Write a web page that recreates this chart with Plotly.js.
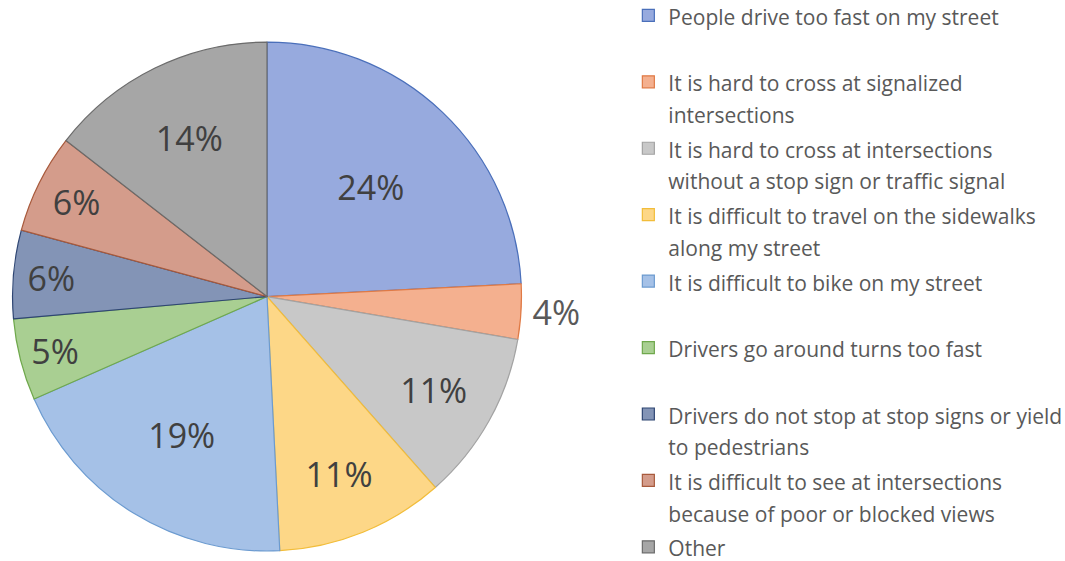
<!DOCTYPE html>
<html>
<head>
<meta charset="utf-8">
<script src="https://cdn.plot.ly/plotly-3.0.1.min.js"></script>
<style>html,body{margin:0;padding:0;background:#fff;}#chart{width:1065px;height:561px;}</style>
</head>
<body>
<div id="chart"></div>
<script>
var categories = [
  "People drive too fast on my street",
  "It is hard to cross at signalized<br>intersections",
  "It is hard to cross at intersections<br>without a stop sign or traffic signal",
  "It is difficult to travel on the sidewalks<br>along my street",
  "It is difficult to bike on my street",
  "Drivers go around turns too fast",
  "Drivers do not stop at stop signs or yield<br>to pedestrians",
  "It is difficult to see at intersections<br>because of poor or blocked views",
  "Other"
];
var shares = [24.2, 3.5, 10.8, 10.7, 19.2, 5.2, 5.6, 6.3, 14.5];
var fillColors = ["#97aade", "#f4b08f", "#c8c8c8", "#fdd787", "#a5c1e7", "#a9cf92", "#8394b6", "#d49c8b", "#a6a6a6"];
var edgeColors = ["#4a6fba", "#e07a45", "#a3a3a3", "#f2bd3a", "#6c9bd0", "#6fa84c", "#2f4673", "#a85a3c", "#6b6b6b"];
var labelPositions = ["inside", "outside", "inside", "inside", "inside", "inside", "inside", "inside", "inside"];

// legend entries: pad every entry to a uniform 2-line block
var legendNames = categories.map(function (c) {
  var lines = c.split("<br>");
  while (lines.length < 2) lines.push(" ");
  return lines.map(function (l) { return "<span style='font-size:21px'>" + l + "</span>"; }).join("<br>");
});

var trace = {
  type: "pie",
  labels: legendNames,
  values: shares,
  sort: false,
  direction: "clockwise",
  rotation: 0,
  marker: { colors: fillColors, line: { color: edgeColors, width: 1.2 } },
  texttemplate: "%{percent:.0%}",
  textposition: labelPositions,
  insidetextorientation: "horizontal",
  insidetextfont: { family: "'Open Sans', sans-serif", size: 34, color: "#404040" },
  outsidetextfont: { family: "'Open Sans', sans-serif", size: 34, color: "#595959" },
  hoverinfo: "none",
  domain: { x: [0.0113, 0.4901], y: [0.0178, 0.925] }
};

var layout = {
  width: 1065,
  height: 561,
  margin: { l: 0, r: 0, t: 0, b: 0, autoexpand: false },
  paper_bgcolor: "#ffffff",
  showlegend: true,
  legend: {
    x: 0.590, xanchor: "left",
    y: 1.0125, yanchor: "top",
    valign: "top",
    maxheight: 800,
    font: { family: "'Open Sans', sans-serif", size: 24.4, color: "#595959" },
    bgcolor: "rgba(0,0,0,0)"
  }
};

Plotly.newPlot("chart", [trace], layout, { staticPlot: true });
</script>
</body>
</html>
